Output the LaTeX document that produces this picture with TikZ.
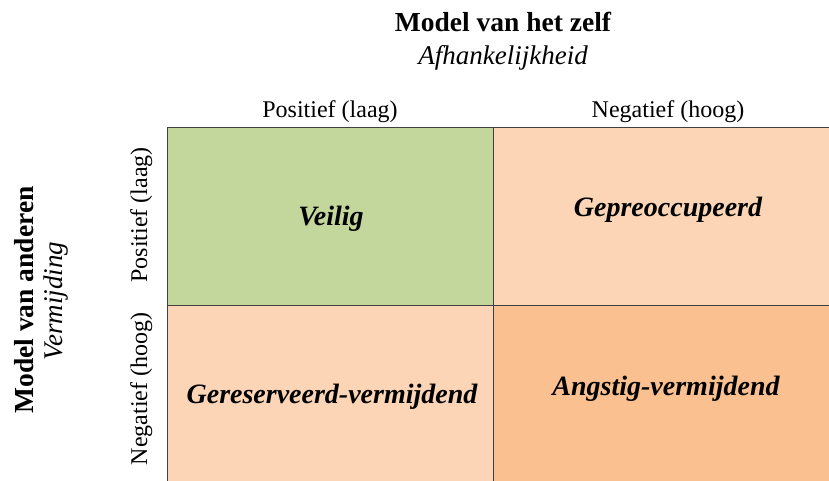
\documentclass[tikz,border=0pt]{standalone}
\usepackage{fontspec}
\setmainfont{Liberation Serif}
\usetikzlibrary{positioning}
\definecolor{groen}{HTML}{C3D69B}
\definecolor{licht}{HTML}{FBD5B5}
\definecolor{oranje}{HTML}{FAC090}
\definecolor{lijn}{HTML}{404040}
\tikzset{
  cel/.style={rectangle,anchor=north west,inner sep=0pt},
  celtekst/.style={anchor=base,inner sep=0pt,font=\fontsize{28}{32}\selectfont\bfseries\itshape},
  titel/.style={anchor=base,inner sep=0pt,font=\fontsize{27.5}{32}\selectfont\bfseries},
  sub/.style={anchor=base,inner sep=0pt,font=\fontsize{27}{32}\selectfont\itshape},
  kop/.style={anchor=base,inner sep=0pt,font=\fontsize{24}{28}\selectfont},
}

\begin{document}
\begin{tikzpicture}[x=1pt,y=-1pt]
  \useasboundingbox (0,0) rectangle (829,481);
  \clip (0,0) rectangle (829,481);
  % cellen
  \node[cel,fill=groen,minimum width=326pt,minimum height=177pt](veilig) at (167,128) {};
  \node[cel,fill=licht,minimum width=350pt,minimum height=177pt](gepre) at (493,128) {};
  \node[cel,fill=licht,minimum width=326pt,minimum height=180pt](geres) at (167,305) {};
  \node[cel,fill=oranje,minimum width=350pt,minimum height=180pt](angst) at (493,305) {};
  \node[celtekst] (tveilig) at (331,225) {Veilig};
  \node[celtekst] (tgepre) at (668,216) {Gepreoccupeerd};
  \node[celtekst] (tgeres) at (332,403) {Gereserveerd-vermijdend};
  \node[celtekst] (tangst) at (666,395) {Angstig-vermijdend};
  % rasterlijnen
  \draw[lijn,line width=1pt] (veilig.north west) -- (gepre.north east);
  \draw[lijn,line width=1pt] (veilig.north west) -- (geres.south west);
  \draw[lijn,line width=1pt] (veilig.north east) -- (geres.south east);
  \draw[lijn,line width=1pt] (veilig.south west) -- (gepre.south east);
  % koppen
  \node[titel] (zelf) at (503,32) {Model van het zelf};
  \node[sub] (afh) at (503,65) {Afhankelijkheid};
  \node[kop] (kpos) at (330,118) {Positief (laag)};
  \node[kop] (kneg) at (668,118) {Negatief (hoog)};
  \node[titel,rotate=90] (ander) at (33,300) {Model van anderen};
  \node[sub,rotate=90] (verm) at (62,301) {Vermijding};
  \node[kop,rotate=90] (lpos) at (147,215) {Positief (laag)};
  \node[kop,rotate=90] (lneg) at (147,389) {Negatief (hoog)};
\end{tikzpicture}
\end{document}
